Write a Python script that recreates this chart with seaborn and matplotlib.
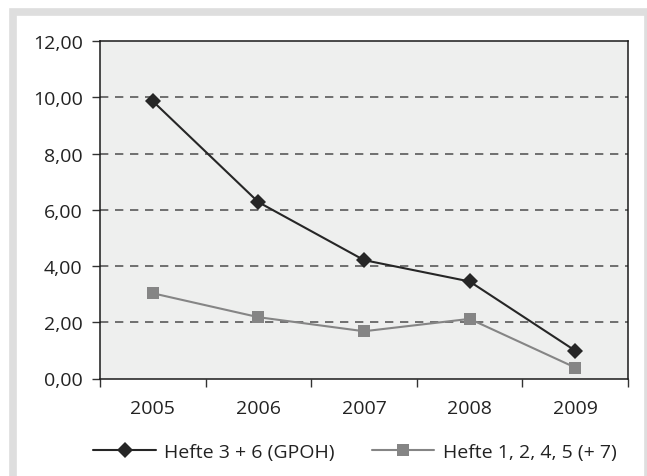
import matplotlib
matplotlib.use("Agg")
import matplotlib.pyplot as plt
from matplotlib import font_manager
from matplotlib.patches import Rectangle
import seaborn as sns
import pandas as pd

years = ["2005", "2006", "2007", "2008", "2009"]
series_a_name = "Hefte 3 + 6 (GPOH)"
series_a = [9.86, 6.27, 4.21, 3.45, 0.99]
series_b_name = "Hefte 1, 2, 4, 5 (+ 7)"
series_b = [3.03, 2.18, 1.68, 2.12, 0.39]
y_ticks = [0, 2, 4, 6, 8, 10, 12]

sns.set_theme(style="white")
avail = {f.name for f in font_manager.fontManager.ttflist}
fam = next((f for f in ["Open Sans", "Liberation Sans", "DejaVu Sans"] if f in avail))
plt.rcParams["font.family"] = [fam, "DejaVu Sans"]

df = pd.DataFrame({
    "pos": list(range(len(years))) * 2,
    "val": series_a + series_b,
    "series": [series_a_name] * len(years) + [series_b_name] * len(years),
})

W, H = 647, 477
fig = plt.figure(figsize=(W / 100, H / 100), dpi=100)
fig.patch.set_facecolor("white")
# gray frame
fig.patches.append(Rectangle((12.85 / W, -0.1), (647.5 - 12.85) / W, 1.1 - 12.85 / H,
                             transform=fig.transFigure, facecolor="none",
                             edgecolor="#dedede", linewidth=5.5, zorder=0))

ax = fig.add_axes([100 / W, 1 - 379.5 / H, 528 / W, 337.5 / H])
ax.set_facecolor("#eeefee")

palette = {series_a_name: "#262626", series_b_name: "#858585"}
markers = {series_a_name: "D", series_b_name: "s"}
sns.lineplot(data=df, x="pos", y="val", hue="series", style="series", palette=palette,
             markers=markers, dashes=False, ax=ax, linewidth=1.5, markersize=8,
             markeredgewidth=0, legend=True)
for ln in ax.get_lines():
    if ln.get_marker() in ("D", "s"):
        ln.set_markersize(8.5)

FS = 14
ax.set_xlim(-0.5, len(years) - 0.5)
ax.set_ylim(0, 12)
ax.set_yticks(y_ticks)
ax.set_yticklabels([f"{v:.2f}".replace(".", ",") for v in y_ticks], fontsize=FS, color="#222222")
ax.set_xticks([i - 0.5 for i in range(len(years) + 1)])
ax.set_xticklabels([])
ax.set_xticks(range(len(years)), minor=True)
ax.set_xticklabels(years, minor=True, fontsize=FS, color="#222222")
ax.tick_params(axis="x", which="major", direction="out", length=5.5, width=1, color="#333333", bottom=True)
ax.tick_params(axis="x", which="minor", length=0, pad=15)
ax.tick_params(axis="y", direction="out", length=6, width=1, color="#333333", left=True, pad=6.5)
ax.set_xlabel("")
ax.set_ylabel("")

for y in y_ticks[1:-1]:
    ax.axhline(y, color="#5a5a5a", linewidth=1.2, linestyle=(0, (5, 4)), zorder=0.5)

for s in ax.spines.values():
    s.set_visible(True)
    s.set_color("#1a1a1a")
    s.set_linewidth(1.1)

handles, labels = ax.get_legend_handles_labels()
ax.legend(handles, labels, loc="center", bbox_to_anchor=(355 / W, 1 - 453 / H),
          bbox_transform=fig.transFigure, ncol=2, frameon=False, fontsize=FS,
          handlelength=3.2, handletextpad=0.45, columnspacing=1.9, labelcolor="#222222")

fig.savefig("out.png", dpi=100)
